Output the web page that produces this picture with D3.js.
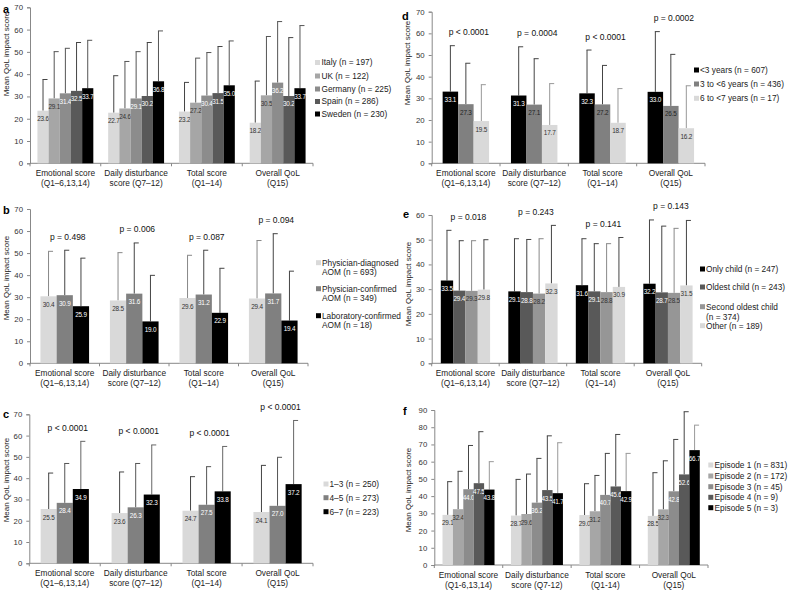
<!DOCTYPE html>
<meta charset="utf-8">
<style>body{margin:0;background:#fff}</style>
<svg width="789" height="591"></svg>
<script src="https://cdn.jsdelivr.net/npm/d3@7"></script>
<script>

var categories = [["Emotional score","(Q1–6,13,14)"],["Daily disturbance","score (Q7–12)"],["Total score","(Q1–14)"],["Overall QoL","(Q15)"]];
var categoriesF = [["Emotional score","(Q1-6,13,14)"],["Daily disturbance","score (Q7-12)"],["Total score","(Q1-14)"],["Overall QoL","(Q15)"]];

// a: by country
var countryNames = [["Italy (n = 197)"],["UK (n = 122)"],["Germany (n = 225)"],["Spain (n = 286)"],["Sweden (n = 230)"]];
var countryMeans = [[23.6,22.7,23.2,18.2],[29.1,24.6,27.2,30.5],[31.4,29.1,30.4,36.2],[32.5,30.2,31.5,30.2],[33.7,36.8,35.0,33.7]];
var countrySD = [[14.0,16.6,13.1,18.7],[21.0,21.1,20.0,26.4],[20.2,21.0,19.3,27.4],[21.7,24.0,20.9,26.2],[21.5,22.6,19.9,28.1]];

// b: by diagnosis
var diagNames = [["Physician-diagnosed","AOM (n = 693)"],["Physician-confirmed","AOM (n = 349)"],["Laboratory-confirmed","AOM (n = 18)"]];
var diagMeans = [[30.4,28.5,29.6,29.4],[30.9,31.6,31.2,31.7],[25.9,19.0,22.9,19.4]];
var diagSD = [[20.4,21.7,19.4,26.3],[20.4,23.0,20.1,27.1],[21.8,20.9,20.2,22.4]];
var diagP = ["p = 0.498","p = 0.006","p = 0.087","p = 0.094"];

// c: by days
var dayNames = [["1–3 (n = 250)"],["4–5 (n = 273)"],["6–7 (n = 223)"]];
var dayMeans = [[25.5,23.6,24.7,24.1],[28.4,26.3,27.5,27.0],[34.9,32.3,33.8,37.2]];
var daySD = [[16.9,19.3,16.0,21.9],[18.5,20.6,17.9,22.8],[22.4,23.3,21.1,29.9]];
var dayP = ["p < 0.0001","p < 0.0001","p < 0.0001","p < 0.0001"];

// d: by age
var ageNames = [["<3 years (n = 607)"],["3 to <6 years (n = 436)"],["6 to <7 years (n = 17)"]];
var ageMeans = [[33.1,31.3,32.3,33.0],[27.3,27.1,27.2,26.5],[19.5,17.7,18.7,16.2]];
var ageSD = [[21.2,22.5,20.0,27.8],[18.9,21.2,18.0,23.8],[16.8,19.1,15.8,19.6]];
var ageP = ["p < 0.0001","p = 0.0004","p < 0.0001","p = 0.0002"];

// e: by birth order
var orderNames = [["Only child (n = 247)"],["Oldest child (n = 243)"],["Second oldest child","(n = 374)"],["Other (n = 189)"]];
var orderMeans = [[33.5,29.1,31.6,32.2],[29.4,28.8,29.1,28.7],[29.3,28.2,28.8,28.5],[29.8,32.3,30.9,31.5]];
var orderSD = [[20.3,21.3,18.8,25.8],[20.2,21.3,19.3,26.8],[20.3,22.2,19.6,26.1],[20.2,23.5,20.0,26.3]];
var orderP = ["p = 0.018","p = 0.243","p = 0.141","p = 0.143"];

// f: by episode
var episodeNames = [["Episode 1 (n = 831)"],["Episode 2 (n = 172)"],["Episode 3 (n = 45)"],["Episode 4 (n = 9)"],["Episode 5 (n = 3)"]];
var episodeMeans = [[29.1,28.7,29.0,28.5],[32.4,29.6,31.2,32.3],[44.0,36.2,40.7,42.8],[47.5,43.5,45.6,52.6],[43.8,41.7,42.9,66.7]];
var episodeSD = [[19.3,21.0,18.2,25.1],[22.0,23.2,20.8,28.2],[25.4,25.7,24.1,30.1],[29.9,31.5,30.2,36.4],[16.2,29.3,21.9,14.5]];

var LIGHT = "#d9d9d9", MID = "#a6a6a6", MID2 = "#8c8c8c", GRAY = "#808080", DARK = "#595959", BLACK = "#000";
var font = "Arial, 'Liberation Sans', sans-serif";

var panels = [
  {letter:"a", lx:3, ly:13, x0:30, x1:313, top:7.3, bottom:163.3, ymax:70, tx:6, ty:54, frac:0.79, cats:categories,
   names:countryNames, means:countryMeans, sd:countrySD,
   colors:[LIGHT,MID,MID2,DARK,BLACK], text:["#333","#333","#fff","#fff","#fff"], err:["#444","#555","#555","#444","#555"],
   sqX:315, txX:321.5, legY:[62.5,76,89,101.5,114]},
  {letter:"b", lx:3, ly:214, x0:30, x1:308, top:209, bottom:363.3, ymax:70, tx:6.5, ty:278, frac:0.70, cats:categories,
   names:diagNames, means:diagMeans, sd:diagSD, p:diagP,
   colors:[LIGHT,GRAY,BLACK], text:["#333","#fff","#fff"], err:["#888","#444","#444"],
   sqX:316, txX:322, legY:[262.7,288.7,315.7], lineH:9.5},
  {letter:"c", lx:3, ly:418, x0:29.3, x1:313, top:414.3, bottom:563.3, ymax:70, tx:6, ty:480, frac:0.68, cats:categories,
   names:dayNames, means:dayMeans, sd:daySD, p:dayP,
   colors:[LIGHT,GRAY,BLACK], text:["#333","#fff","#fff"], err:["#444","#555","#666"],
   sqX:323.5, txX:329.5, legY:[484,497.7,511.7]},
  {letter:"d", lx:402, ly:20, x0:431.7, x1:705, top:11.7, bottom:163.3, ymax:70, tx:407, ty:63, frac:0.68, cats:categories,
   names:ageNames, means:ageMeans, sd:ageSD, p:ageP,
   colors:[BLACK,GRAY,LIGHT], text:["#fff","#222","#333"], err:["#444","#444","#999"],
   sqX:694, txX:700, legY:[70,84,98.3]},
  {letter:"e", lx:403, ly:218, x0:431.7, x1:701.7, top:215, bottom:363.3, ymax:60, tx:408, ty:284, frac:0.73, cats:categories,
   names:orderNames, means:orderMeans, sd:orderSD, p:orderP,
   colors:[BLACK,DARK,"#969696",LIGHT], text:["#fff","#fff","#333","#333"], err:["#444","#444","#888","#444"],
   sqX:700, txX:706, legY:[269,287,306.7,325.7], lineH:10},
  {letter:"f", lx:403, ly:415, x0:434.3, x1:708, top:410, bottom:565, ymax:90, tx:408.5, ty:490, frac:0.76, cats:categoriesF,
   names:episodeNames, means:episodeMeans, sd:episodeSD,
   colors:[LIGHT,MID,MID2,DARK,BLACK], text:["#333","#333","#fff","#fff","#fff"], err:["#444","#444","#444","#444","#999"],
   sqX:708.3, txX:714.5, legY:[465,476,486.7,497.3,507.7]}
];

var svg = d3.select("svg").style("font-family", font);

panels.forEach(drawPanel);

function drawPanel(P) {
  var g = svg.append("g");
  var n = P.names.length;
  var x = d3.scaleBand().domain(d3.range(4)).range([P.x0, P.x1])
      .paddingInner(1 - P.frac).paddingOuter((1 - P.frac) / 2);
  var xs = d3.scaleBand().domain(d3.range(n)).range([0, x.bandwidth()]);
  var y = d3.scaleLinear().domain([0, P.ymax]).range([P.bottom, P.top]);

  // y axis
  var ya = g.append("g").attr("transform", "translate(" + P.x0 + ",0)")
      .call(d3.axisLeft(y).ticks(P.ymax / 10).tickSize(3).tickPadding(4));
  ya.select(".domain").attr("stroke", "#888");
  ya.selectAll(".tick line").attr("stroke", "#888");
  ya.selectAll("text").attr("font-size", 7.8).attr("fill", "#333").attr("font-family", font);

  // x axis line + boundary ticks
  g.append("line").attr("x1", P.x0).attr("x2", P.x1).attr("y1", P.bottom).attr("y2", P.bottom).attr("stroke", "#888");
  var step = x.step();
  d3.range(5).forEach(function(i) {
    var bx = P.x0 + i * step;
    g.append("line").attr("x1", bx).attr("x2", bx).attr("y1", P.bottom).attr("y2", P.bottom + 3).attr("stroke", "#888");
  });

  // category labels
  P.cats.forEach(function(c, i) {
    var cx = x(i) + x.bandwidth() / 2;
    c.forEach(function(line, k) {
      g.append("text").attr("x", cx).attr("y", P.bottom + 13 + k * 9.8)
        .attr("text-anchor", "middle").attr("font-size", 8.3).attr("fill", "#222").text(line);
    });
  });

  // bars, error bars, labels
  P.means.forEach(function(vals, s) {
    vals.forEach(function(v, i) {
      var bx = x(i) + xs(s), bw = xs.bandwidth(), cx = bx + bw / 2;
      var top = v + P.sd[s][i];
      g.append("line").attr("x1", cx).attr("x2", cx).attr("y1", y(v)).attr("y2", y(top))
        .attr("stroke", P.err[s]).attr("stroke-width", 1);
      g.append("line").attr("x1", cx - 0.5).attr("x2", cx + 4.5).attr("y1", y(top)).attr("y2", y(top))
        .attr("stroke", P.err[s]).attr("stroke-width", 1);
      g.append("rect").attr("x", bx).attr("y", y(v)).attr("width", bw).attr("height", y(0) - y(v))
        .attr("fill", P.colors[s]);
      g.append("text").attr("x", cx).attr("y", y(v) + 10.5).attr("text-anchor", "middle")
        .attr("font-size", 6.4).attr("letter-spacing", -0.2).attr("fill", P.text[s]).text(v.toFixed(1));
    });
  });

  // p values
  if (P.p) {
    P.p.forEach(function(t, i) {
      var maxTop = d3.max(P.means, function(vals, s) { return vals[i] + P.sd[s][i]; });
      g.append("text").attr("x", x(i) + x.bandwidth() / 2 + 3).attr("y", y(maxTop) - 10.5)
        .attr("text-anchor", "middle").attr("font-size", 8.5).attr("fill", "#111").text(t);
    });
  }

  // y title
  g.append("text").attr("transform", "translate(" + P.tx + "," + P.ty + ") rotate(-90)")
    .attr("text-anchor", "middle").attr("dy", "0.35em").attr("font-size", 8).attr("fill", "#222")
    .text("Mean QoL impact score");

  // panel letter
  g.append("text").attr("x", P.lx).attr("y", P.ly).attr("font-size", 11).attr("font-weight", "bold").text(P.letter);

  // legend
  P.names.forEach(function(lines, s) {
    var ly = P.legY[s];
    g.append("rect").attr("x", P.sqX).attr("y", ly - 2.5).attr("width", 5).attr("height", 5).attr("fill", P.colors[s]);
    lines.forEach(function(line, k) {
      g.append("text").attr("x", P.txX).attr("y", ly + k * (P.lineH || 9.5)).attr("dy", "0.35em")
        .attr("font-size", 8.3).attr("fill", "#222").text(line);
    });
  });
}
</script>
